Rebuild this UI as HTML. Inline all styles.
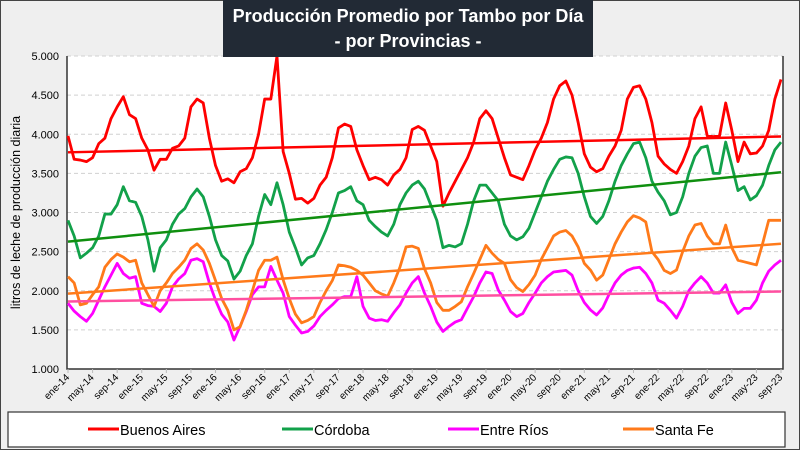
<!DOCTYPE html>
<html><head><meta charset="utf-8"><style>
html,body{margin:0;padding:0;width:800px;height:450px;overflow:hidden;background:#f0f0f0;font-family:"Liberation Sans",sans-serif;}
#frame{position:absolute;left:0;top:0;width:798px;height:448px;border:1px solid #444;background:#efefef;}
#title{position:absolute;left:223px;top:0;width:370px;height:57px;background:#222a35;color:#fff;font-weight:bold;font-size:18px;text-align:center;line-height:25px;padding-top:4px;box-sizing:border-box;}
svg{position:absolute;left:0;top:0;}
</style></head><body>
<div id="frame"></div>
<svg id="chart" width="800" height="450"></svg>
<div id="title">Producción Promedio por Tambo por Día<br>- por Provincias -</div>
<script>
const tickLabels=["ene-14","may-14","sep-14","ene-15","may-15","sep-15","ene-16","may-16","sep-16","ene-17","may-17","sep-17","ene-18","may-18","sep-18","ene-19","may-19","sep-19","ene-20","may-20","sep-20","ene-21","may-21","sep-21","ene-22","may-22","sep-22","ene-23","may-23","sep-23"];
const yTicks=[1000,1500,2000,2500,3000,3500,4000,4500,5000];
const seriesNames=["Buenos Aires","Córdoba","Entre Ríos","Santa Fe"];
const buenosAires=[3980,3680,3670,3650,3700,3880,3950,4200,4350,4480,4250,4200,3950,3800,3540,3680,3680,3820,3850,3950,4350,4450,4400,3950,3600,3400,3430,3380,3520,3560,3700,4000,4450,4450,5000,3780,3500,3170,3180,3120,3180,3350,3450,3700,4080,4130,4100,3800,3600,3420,3450,3420,3350,3480,3550,3700,4060,4100,4050,3850,3650,3080,3250,3400,3550,3700,3900,4200,4300,4200,3950,3700,3480,3450,3420,3600,3800,3950,4150,4450,4620,4680,4500,4150,3750,3580,3520,3560,3720,3850,4050,4450,4600,4620,4450,4150,3720,3620,3550,3500,3650,3850,4200,4350,3980,3970,3980,4400,4050,3650,3900,3750,3760,3850,4050,4450,4700];
const cordoba=[2900,2700,2420,2480,2550,2700,2980,2980,3100,3330,3150,3130,2950,2650,2250,2550,2650,2850,2980,3050,3200,3300,3200,2950,2650,2450,2380,2150,2250,2450,2600,2950,3230,3100,3380,3100,2750,2550,2330,2420,2450,2600,2780,3000,3250,3280,3330,3150,3100,2900,2820,2750,2700,2850,3100,3250,3350,3400,3300,3100,2900,2550,2580,2560,2600,2850,3150,3350,3350,3250,3150,2850,2700,2650,2690,2800,3000,3200,3400,3550,3680,3710,3700,3500,3200,2950,2860,2950,3150,3400,3600,3750,3880,3900,3700,3400,3260,3150,2970,3000,3200,3500,3720,3830,3850,3500,3500,3900,3600,3280,3330,3160,3215,3350,3600,3800,3900];
const entreRios=[1840,1740,1670,1610,1710,1880,2050,2200,2350,2220,2160,2180,1840,1810,1800,1735,1840,2050,2150,2220,2390,2410,2370,2100,1880,1700,1600,1370,1545,1735,1950,2050,2050,2310,2135,1970,1670,1560,1460,1480,1550,1670,1750,1820,1900,1925,1925,2180,1800,1650,1620,1630,1610,1720,1820,1970,2100,2180,1970,1800,1600,1480,1545,1600,1630,1780,1925,2100,2240,2220,2010,1880,1735,1670,1710,1850,1970,2100,2180,2240,2250,2260,2200,2000,1850,1755,1690,1780,1950,2100,2200,2260,2290,2300,2220,2100,1880,1840,1750,1650,1800,2000,2100,2180,2100,1970,1970,2075,1850,1710,1775,1775,1880,2100,2250,2330,2390];
const santaFe=[2180,2100,1820,1840,1950,2050,2300,2400,2470,2430,2370,2390,2100,1950,1800,2000,2100,2220,2300,2390,2540,2600,2520,2350,2130,1900,1750,1500,1540,1750,2000,2260,2390,2390,2430,2140,1900,1700,1590,1620,1670,1850,2000,2130,2330,2320,2300,2260,2200,2100,2000,1960,1930,2100,2300,2560,2570,2540,2280,2100,1850,1750,1750,1800,1860,2050,2220,2400,2580,2480,2400,2350,2140,2040,1990,2080,2200,2400,2550,2700,2750,2770,2700,2560,2350,2265,2135,2200,2400,2600,2750,2880,2960,2930,2880,2500,2400,2260,2220,2265,2500,2700,2840,2860,2700,2600,2600,2840,2550,2390,2370,2350,2330,2600,2900,2900,2900];
const seriesData=[buenosAires,cordoba,entreRios,santaFe];
const colors=["#ff0000","#12a14a","#ff00ff","#ff7a1a"];
const trendColors=["#ff0000","#0f8f0f","#ff4fa0","#ff7a1a"];

const NS="http://www.w3.org/2000/svg";
const svg=document.getElementById('chart');
const L=67,R=783,T=56,B=369,N=117;
const xs=i=>L+1+i*(R-L-3)/(N-1);
const ys=v=>B-(v-1000)/4000*(B-T);
function mk(tag,attrs,parent){const e=document.createElementNS(NS,tag);for(const k in attrs)e.setAttribute(k,attrs[k]);(parent||svg).appendChild(e);return e;}

const plot=mk('rect',{x:L,y:T,width:R-L,height:B-T,fill:'#fff'});



yTicks.forEach(v=>{
  if(v>1000){const g=mk('line',{x1:L,x2:R,y1:ys(v),y2:ys(v),stroke:'#d0d0d0','stroke-dasharray':'4,3','stroke-width':1});
  
  }
  const t=mk('text',{x:L-8,y:ys(v)+4,'text-anchor':'end','font-size':11,fill:'#000'});
  t.textContent=v.toLocaleString('de-DE',{minimumFractionDigits:3}).replace(/,000$/,'');
  t.textContent=(v/1000).toFixed(3);
  
  
});
const border=mk('path',{d:`M${L},${T}V${B}H${R}V${T}`,fill:'none',stroke:'#333','stroke-width':1.5});



tickLabels.forEach((lab,k)=>{
  const x=xs(k*4);
  const tk=mk('line',{x1:x,x2:x,y1:B,y2:B+4,stroke:'#bbb'});
  
  
  const t=mk('text',{x:x+2,y:B+9,'text-anchor':'end','font-size':10,fill:'#000',transform:`rotate(-45 ${x+2} ${B+9})`});
  t.textContent=lab;
  
  
});

const yt=mk('text',{x:0,y:0,'text-anchor':'middle','font-size':12.5,fill:'#000',transform:`translate(20 ${(T+B)/2}) rotate(-90)`});
yt.textContent='litros de leche de producción diaria';



seriesData.forEach((arr,s)=>{
  const p=mk('polyline',{points:arr.map((v,i)=>xs(i)+','+ys(v)).join(' '),fill:'none',stroke:colors[s],'stroke-width':2.8,'stroke-linejoin':'round'});
  
  
});
seriesData.forEach((arr,s)=>{
  const n=arr.length;let sx=0,sy=0,sxy=0,sxx=0;
  arr.forEach((v,i)=>{sx+=i;sy+=v;sxy+=i*v;sxx+=i*i;});
  const b=(n*sxy-sx*sy)/(n*sxx-sx*sx),a=(sy-b*sx)/n;
  const t=mk('line',{x1:xs(0),y1:ys(a),x2:xs(n-1),y2:ys(a+b*(n-1)),stroke:trendColors[s],'stroke-width':2.5});
  
  
});

const lg=mk('rect',{x:8,y:412,width:777,height:35,fill:'#fff',stroke:'#333','stroke-width':1.2});


const lx=[88,282,448,623];
seriesNames.forEach((nm,s)=>{
  const l=mk('line',{x1:lx[s],x2:lx[s]+31,y1:429,y2:429,stroke:colors[s],'stroke-width':3});
  
  
  const t=mk('text',{x:lx[s]+32,y:435,'font-size':14.5,fill:'#000'});
  t.textContent=nm;
  
  
});
</script>
</body></html>
